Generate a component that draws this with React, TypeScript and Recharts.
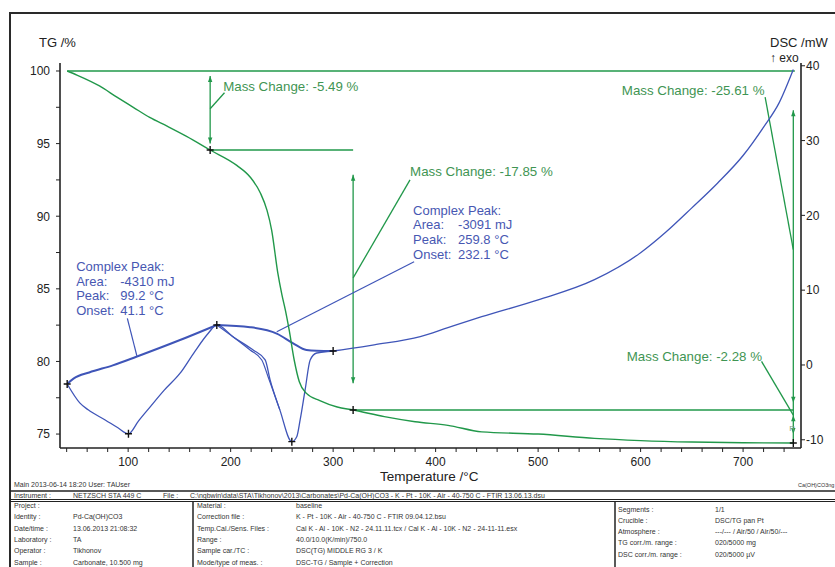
import React from "react";
import { ComposedChart, Line, XAxis, YAxis, ReferenceLine, ReferenceDot } from "recharts";

const FONT = "'Liberation Sans', Arial, sans-serif";
const GREEN = "#21984a";
const GREEN_TEXT = "#3f9553";
const BLUE = "#3f55b8";
const BLUE_TEXT = "#4757b2";
const INK = "#222";

// TG /% vs temperature /°C
const tgPoints = [
  [40.5, 100], [50, 99.72], [72, 98.97], [89, 98.2], [105, 97.5], [121, 96.8],
  [138, 96.2], [157, 95.5], [180, 94.56], [206, 93.5], [219, 92.7], [229, 91.6],
  [235.5, 90.4], [240, 89.05], [246, 86.1], [250, 84.6], [253.5, 83.5], [257, 82.2],
  [262, 80.1], [267, 78.6], [274, 77.8], [287, 77.3], [304, 76.86], [319.5, 76.66],
  [350, 76.2], [380, 75.85], [412, 75.6], [445, 75.15], [500, 75.0], [555, 74.7],
  [600, 74.55], [650, 74.45], [700, 74.4], [749, 74.38],
];

// DSC /mW vs temperature /°C
const dscPoints = [
  [40.5, -2.54], [53, -5.1], [61, -6.0], [77.6, -7.35], [90, -8.4], [100.3, -9.2],
  [110, -7.5], [121.5, -5.6], [135, -3.4], [150.7, -1.1], [165, 1.8], [178, 4.2],
  [186.5, 5.35], [203, 3.7], [222, 2.0], [233.7, 0.67], [238.5, -2.0], [248, -6.0],
  [259.7, -10.25], [264.5, -9.6], [267.8, -7.35], [272.7, -3.3], [277.6, 0.67],
  [284, 1.6], [300, 1.87], [340, 2.7], [385, 3.8], [412, 5.0], [445, 6.45],
  [500, 8.7], [555, 11.4], [600, 15.0], [625, 17.8], [650, 21.0], [675, 24.3],
  [700, 28.0], [720, 31.8], [735, 35.0], [749, 39.5],
];

// second trace of the 260 °C peak flank
const dscInnerPoints = [
  [186.5, 5.35], [200, 4.0], [219, 2.0], [230.4, 0.67], [236.6, -1.6], [248, -6.0],
];

// peak integration baselines
const baseline1Points = [
  [40.5, -2.54], [47, -1.8], [62, -1.0], [85, -0.05], [108, 1.1], [150, 3.3], [186.5, 5.35],
];
const baseline2Points = [
  [186.5, 5.35], [219, 5.05], [245, 4.2], [261, 2.9], [274, 2.0], [284, 1.9], [300, 1.87],
];

const tgMarks = [[180, 94.56], [319.5, 76.66], [749, 74.38]];
const dscMarks = [[40.5, -2.54], [100.3, -9.2], [186.5, 5.35], [259.7, -10.25], [300, 1.87]];

const xTicks = [40, 60, 80, 100, 120, 140, 160, 180, 200, 220, 240, 260, 280, 300, 320, 340, 360,
  380, 400, 420, 440, 460, 480, 500, 520, 540, 560, 580, 600, 620, 640, 660, 680, 700, 720, 740];
const tgTicks = [75, 77.5, 80, 82.5, 85, 87.5, 90, 92.5, 95, 97.5, 100];
const dscTicks = [-10, 0, 10, 20, 30, 40];

// mass change construction (TG coordinates)
const tgSegments = [
  [[40.5, 100], [750.5, 100]],
  [[180, 94.56], [319.5, 94.56]],
  [[319.5, 76.66], [749, 76.66]],
  [[180, 99.65], [180, 95.0]],
  [[319.5, 92.85], [319.5, 78.5]],
  [[749, 97.3], [749, 74.38]],
  [[194, 98.5], [180, 97.4]],
  [[375, 92.5], [319.5, 85.75]],
  [[721.5, 98.2], [749, 87.7]],
  [[718, 80.0], [749, 76.3]],
];
const arrowHeads = [
  [180, 99.65, -1], [180, 95.0, 1], [319.5, 92.85, -1], [319.5, 78.5, 1],
  [749, 97.3, -1], [749, 77.15, 1], [749, 76.3, -1], [749, 75.0, 1],
];
const massLabels = [
  [192.7, 98.6, "Mass Change: -5.49 %"],
  [375.1, 92.77, "Mass Change: -17.85 %"],
  [581.7, 98.35, "Mass Change: -25.61 %"],
  [586.5, 80.05, "Mass Change: -2.28 %"],
];

// peak evaluation (DSC coordinates)
const dscLeaders = [
  [[99.2, 6.24], [108.5, 1.22]],
  [[245, 4.45], [379, 13.8]],
];
const peakLabels = [
  { t: 49.3, v: 12.6, gap: 44, rows: [["Complex Peak:", ""], ["Area:", "-4310 mJ"], ["Peak:", "99.2 °C"], ["Onset:", "41.1 °C"]] },
  { t: 378.0, v: 20.1, gap: 45, rows: [["Complex Peak:", ""], ["Area:", "-3091 mJ"], ["Peak:", "259.8 °C"], ["Onset:", "232.1 °C"]] },
];

const pts = (a: number[][]) => a.map(([t, v]) => ({ t, v }));

const XTick = (p: any) => {
  const v = p.payload.value;
  if (v % 100 !== 0) return <g />;
  return (
    <text x={p.x} y={p.y + 12} textAnchor="middle" fontSize={12} fill={INK} fontFamily={FONT}>
      {v}
    </text>
  );
};
const TgTick = (p: any) => {
  const v = p.payload.value;
  if (v % 5 !== 0) return <g />;
  return (
    <text x={p.x} y={p.y + 4.3} textAnchor="end" fontSize={12} fill={INK} fontFamily={FONT}>
      {v}
    </text>
  );
};
const DscTick = (p: any) => (
  <text x={p.x} y={p.y + 4.3} textAnchor="start" fontSize={12} fill={INK} fontFamily={FONT}>
    {p.payload.value}
  </text>
);

const cross = (p: any) => (
  <path d={`M${p.cx - 3.5},${p.cy}H${p.cx + 3.5}M${p.cx},${p.cy - 4}V${p.cy + 4}`} stroke="#111" strokeWidth={1.4} fill="none" />
);
const head = (dir: number) => (p: any) => (
  <path d={`M${p.cx},${p.cy}L${p.cx - 2.2},${p.cy - dir * 6}L${p.cx + 2.2},${p.cy - dir * 6}Z`} fill={GREEN} />
);
const massText = (s: string) => (p: any) => (
  <text x={p.cx} y={p.cy} fontSize={13.3} fill={GREEN_TEXT} fontFamily={FONT}>{s}</text>
);
const peakText = (rows: string[][], gap: number) => (p: any) => (
  <g fontSize={13} fill={BLUE_TEXT} fontFamily={FONT}>
    {rows.map((r, i) => (
      <g key={i}>
        <text x={p.cx} y={p.cy + i * 14.8}>{r[0]}</text>
        {r[1] && <text x={p.cx + gap} y={p.cy + i * 14.8}>{r[1]}</text>}
      </g>
    ))}
  </g>
);

const colLeft = [
  ["Project :", ""],
  ["Identity :", "Pd-Ca(OH)CO3"],
  ["Date/time :", "13.06.2013 21:08:32"],
  ["Laboratory :", "TA"],
  ["Operator :", "Tikhonov"],
  ["Sample :", "Carbonate, 10.500 mg"],
];
const colMid = [
  ["Material :", "baseline"],
  ["Correction file :", "K - Pt - 10K - Air - 40-750 C - FTIR  09.04.12.bsu"],
  ["Temp.Cal./Sens. Files :", "Cal K - Al - 10K - N2 - 24.11.11.tcx / Cal K - Al - 10K - N2 - 24-11-11.esx"],
  ["Range :", "40.0/10.0(K/min)/750.0"],
  ["Sample car./TC :", "DSC(TG) MIDDLE RG 3 / K"],
  ["Mode/type of meas. :", "DSC-TG / Sample + Correction"],
];
const colRight = [
  ["Segments :", "1/1"],
  ["Crucible :", "DSC/TG pan Pt"],
  ["Atmosphere :", "---/--- / Air/50 / Air/50/---"],
  ["TG corr./m. range :", "020/5000 mg"],
  ["DSC corr./m. range :", "020/5000 µV"],
];

const Overlay = () => (
  <svg width={835} height={567} style={{ position: "absolute", left: 0, top: 0, pointerEvents: "none" }} fontFamily={FONT}>
    <path d="M10,567V13H835" stroke="#2a2a2a" strokeWidth={2} fill="none" />
    <text x={39} y={46.7} fontSize={13} fill={INK}>TG /%</text>
    <text x={770} y={46.7} fontSize={13} fill={INK}>DSC /mW</text>
    <text x={770} y={62} fontSize={12} fill={INK}>↑ exo</text>
    <text x={380} y={481} fontSize={13.5} fill={INK}>Temperature /°C</text>
    <text x={14} y={487} fontSize={7} fill="#333">Main  2013-06-14 18:20    User: TAUser</text>
    <text x={798} y={487} fontSize={5.5} fill="#333">Ca(OH)CO3ng</text>
    <line x1={10} y1={491} x2={835} y2={491} stroke="#222" strokeWidth={1.6} />
    <line x1={10} y1={499.5} x2={835} y2={499.5} stroke="#222" strokeWidth={1} />
    <line x1={10} y1={501.5} x2={835} y2={501.5} stroke="#222" strokeWidth={1} />
    <line x1={193} y1={501} x2={193} y2={567} stroke="#222" strokeWidth={1.5} />
    <line x1={615} y1={501} x2={615} y2={567} stroke="#222" strokeWidth={1.5} />
    <g fontSize={7} fill="#333">
      <text x={14} y={497.5}>Instrument :</text>
      <text x={73} y={497.5}>NETZSCH STA 449 C</text>
      <text x={163} y={497.5}>File :</text>
      <text x={190} y={497.5}>C:\ngbwin\data\STA\Tikhonov\2013\Carbonates\Pd-Ca(OH)CO3 - K - Pt - 10K - Air - 40-750 C - FTIR  13.06.13.dsu</text>
      {colLeft.map((r, i) => (
        <g key={"l" + i}>
          <text x={14} y={508 + i * 11.3}>{r[0]}</text>
          <text x={73} y={508 + i * 11.3}>{r[1]}</text>
        </g>
      ))}
      {colMid.map((r, i) => (
        <g key={"m" + i}>
          <text x={197} y={508 + i * 11.3}>{r[0]}</text>
          <text x={296} y={508 + i * 11.3}>{r[1]}</text>
        </g>
      ))}
      {colRight.map((r, i) => (
        <g key={"r" + i}>
          <text x={618} y={511.5 + i * 11.3}>{r[0]}</text>
          <text x={715} y={511.5 + i * 11.3}>{r[1]}</text>
        </g>
      ))}
    </g>
  </svg>
);

export default function App() {
  return (
    <div style={{ position: "absolute", left: 0, top: 0, width: 835, height: 567, background: "#fff", overflow: "hidden", fontFamily: FONT }}>
      <ComposedChart width={835} height={567} margin={{ top: 63, right: 0, bottom: 89, left: 10 }}>
        <XAxis
          type="number"
          dataKey="t"
          domain={[33.5, 756.5]}
          allowDataOverflow
          ticks={xTicks}
          interval={0}
          tick={<XTick />}
          tickSize={4}
          tickMargin={2}
          height={30}
          axisLine={{ stroke: INK, strokeWidth: 1.6 }}
          tickLine={{ stroke: INK }}
        />
        <YAxis
          yAxisId="tg"
          orientation="left"
          type="number"
          domain={[74.04, 100.55]}
          allowDataOverflow
          ticks={tgTicks}
          interval={0}
          tick={<TgTick />}
          tickSize={4}
          tickMargin={6}
          width={50}
          axisLine={{ stroke: INK, strokeWidth: 1.6 }}
          tickLine={{ stroke: INK }}
        />
        <YAxis
          yAxisId="dsc"
          orientation="right"
          type="number"
          domain={[-11.1, 40.37]}
          allowDataOverflow
          ticks={dscTicks}
          interval={0}
          tick={<DscTick />}
          tickSize={4}
          tickMargin={1}
          width={34}
          axisLine={{ stroke: INK, strokeWidth: 1.6 }}
          tickLine={{ stroke: INK }}
        />

        {tgSegments.map((s, i) => (
          <ReferenceLine
            key={"tgs" + i}
            yAxisId="tg"
            segment={[{ x: s[0][0], y: s[0][1] }, { x: s[1][0], y: s[1][1] }]}
            stroke={GREEN}
            strokeWidth={i < 3 ? 1.6 : 1.3}
            ifOverflow="visible"
          />
        ))}
        {dscLeaders.map((s, i) => (
          <ReferenceLine
            key={"dl" + i}
            yAxisId="dsc"
            segment={[{ x: s[0][0], y: s[0][1] }, { x: s[1][0], y: s[1][1] }]}
            stroke={BLUE}
            strokeWidth={1.2}
            ifOverflow="visible"
          />
        ))}

        <Line yAxisId="dsc" data={pts(baseline1Points)} dataKey="v" type="monotoneX" stroke={BLUE} strokeWidth={2} dot={false} isAnimationActive={false} />
        <Line yAxisId="dsc" data={pts(baseline2Points)} dataKey="v" type="monotoneX" stroke={BLUE} strokeWidth={2} dot={false} isAnimationActive={false} />
        <Line yAxisId="dsc" data={pts(dscInnerPoints)} dataKey="v" type="monotoneX" stroke={BLUE} strokeWidth={1.2} dot={false} isAnimationActive={false} />
        <Line yAxisId="dsc" data={pts(dscPoints)} dataKey="v" type="monotoneX" stroke={BLUE} strokeWidth={1.3} dot={false} isAnimationActive={false} />
        <Line yAxisId="tg" data={pts(tgPoints)} dataKey="v" type="monotoneX" stroke={GREEN} strokeWidth={1.4} dot={false} isAnimationActive={false} />

        {arrowHeads.map((a, i) => (
          <ReferenceDot key={"ah" + i} yAxisId="tg" x={a[0]} y={a[1]} r={3} ifOverflow="visible" shape={head(a[2])} />
        ))}
        {tgMarks.map((m, i) => (
          <ReferenceDot key={"tm" + i} yAxisId="tg" x={m[0]} y={m[1]} r={4} ifOverflow="visible" shape={cross} />
        ))}
        {dscMarks.map((m, i) => (
          <ReferenceDot key={"dm" + i} yAxisId="dsc" x={m[0]} y={m[1]} r={4} ifOverflow="visible" shape={cross} />
        ))}
        {massLabels.map((l, i) => (
          <ReferenceDot key={"ml" + i} yAxisId="tg" x={l[0] as number} y={l[1] as number} r={1} ifOverflow="visible" shape={massText(l[2] as string)} />
        ))}
        {peakLabels.map((l, i) => (
          <ReferenceDot key={"pl" + i} yAxisId="dsc" x={l.t} y={l.v} r={1} ifOverflow="visible" shape={peakText(l.rows, l.gap)} />
        ))}
        <ReferenceDot yAxisId="tg" x={745} y={75.2} r={1} ifOverflow="visible"
          shape={(p: any) => <text x={p.cx} y={p.cy} fontSize={8} fill="#7fa07f" fontFamily={FONT}>R</text>} />
      </ComposedChart>
      <Overlay />
    </div>
  );
}
